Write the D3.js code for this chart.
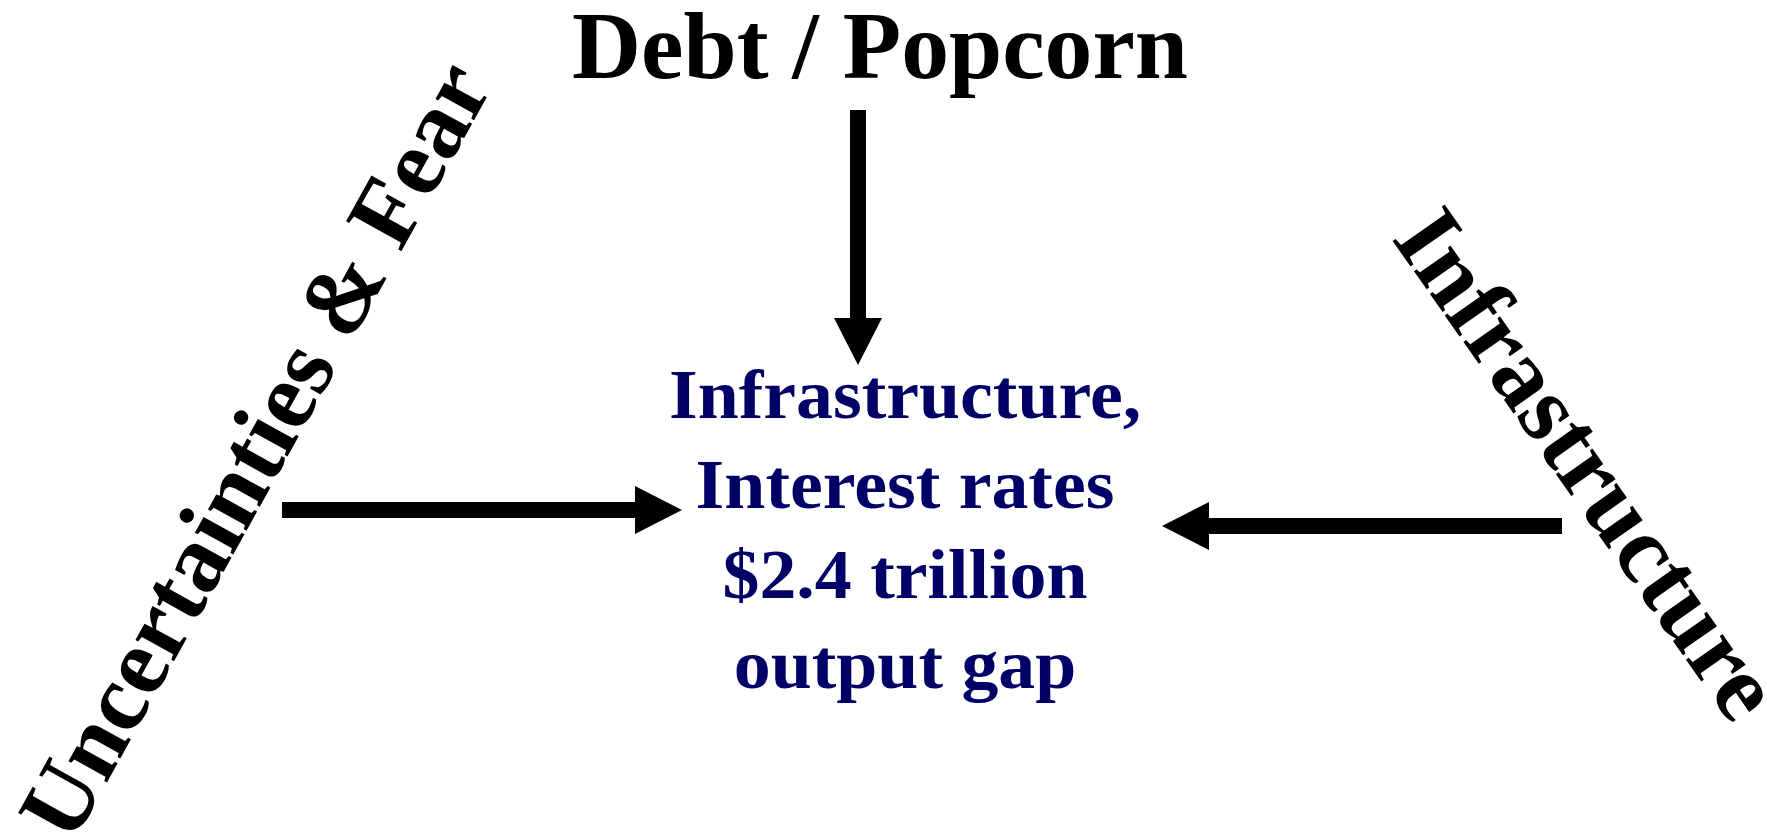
<!DOCTYPE html>
<meta charset="utf-8">
<head>
    <title>Output gap diagram</title>
    <script src="https://cdn.jsdelivr.net/npm/d3@7"></script>
</head>

<style>
    body { margin: 0; background: #fff; }
    text {
        font-family: "Liberation Serif", "Times New Roman", serif;
        font-weight: bold;
    }
    .arrow { fill: #000; }
</style>
<svg></svg>

<script>
    var vWidth = 1767;
    var vHeight = 836;

    // Diagram content
    var vTitle = ["Debt / Popcorn"];
    var vSideLabels = ["Uncertainties & Fear", "Infrastructure"];
    var vCenterLines = ["Infrastructure,", "Interest rates", "$2.4 trillion", "output gap"];
    // arrows point from each source to the centre box
    var vArrows = ["top", "left", "right"];

    var svg = d3.select('svg').attr('width', vWidth).attr('height', vHeight);

    // Title at the top
    svg.selectAll('text.title').data(vTitle).enter().append('text')
        .attr('class', 'title')
        .attr('x', 880).attr('y', 78)
        .attr('text-anchor', 'middle')
        .attr('font-size', 96)
        .attr('textLength', 616)
        .attr('lengthAdjust', 'spacingAndGlyphs')
        .text(function (d) { return d; });

    // Rotated side labels
    var vSidePos = [
        {cx: 255, cy: 450, angle: -61, size: 96},
        {cx: 1588, cy: 464, angle: 55, size: 97}
    ];
    svg.selectAll('g.side').data(vSideLabels).enter().append('g')
        .attr('class', 'side')
        .attr('transform', function (d, i) {
            var p = vSidePos[i];
            return 'translate(' + p.cx + ',' + p.cy + ') rotate(' + p.angle + ')';
        })
        .append('text')
        .attr('text-anchor', 'middle')
        .attr('y', function (d, i) { return vSidePos[i].size * 0.33; })
        .attr('font-size', function (d, i) { return vSidePos[i].size; })
        .text(function (d) { return d; });

    // Centre text block
    var yLine = d3.scaleLinear().domain([0, 1]).range([418, 508]);
    var gCenter = svg.append('g').attr('transform', 'translate(905,0) scale(1.07,1)');
    gCenter.selectAll('text').data(vCenterLines).enter().append('text')
        .attr('text-anchor', 'middle')
        .attr('y', function (d, i) { return yLine(i); })
        .attr('font-size', 69)
        .attr('fill', '#000066')
        .text(function (d) { return d; });

    // Block arrows: shaft plus triangular head
    var vArrowPos = {
        top: [858, 110, 858, 365],
        left: [282, 510, 682, 510],
        right: [1562, 526, 1162, 526]
    };
    function arrowPath(a) {
        var x1 = a[0], y1 = a[1], x2 = a[2], y2 = a[3];
        var len = Math.hypot(x2 - x1, y2 - y1);
        var ux = (x2 - x1) / len, uy = (y2 - y1) / len;
        var nx = -uy, ny = ux;
        var sw = 8, hw = 24, hl = 47;
        var bx = x2 - ux * hl, by = y2 - uy * hl;
        var p = d3.path();
        p.moveTo(x1 + nx * sw, y1 + ny * sw);
        p.lineTo(bx + nx * sw, by + ny * sw);
        p.lineTo(bx + nx * hw, by + ny * hw);
        p.lineTo(x2, y2);
        p.lineTo(bx - nx * hw, by - ny * hw);
        p.lineTo(bx - nx * sw, by - ny * sw);
        p.lineTo(x1 - nx * sw, y1 - ny * sw);
        p.closePath();
        return p.toString();
    }
    svg.selectAll('path.arrow').data(vArrows).enter().append('path')
        .attr('class', 'arrow')
        .attr('d', function (d) { return arrowPath(vArrowPos[d]); });
</script>
